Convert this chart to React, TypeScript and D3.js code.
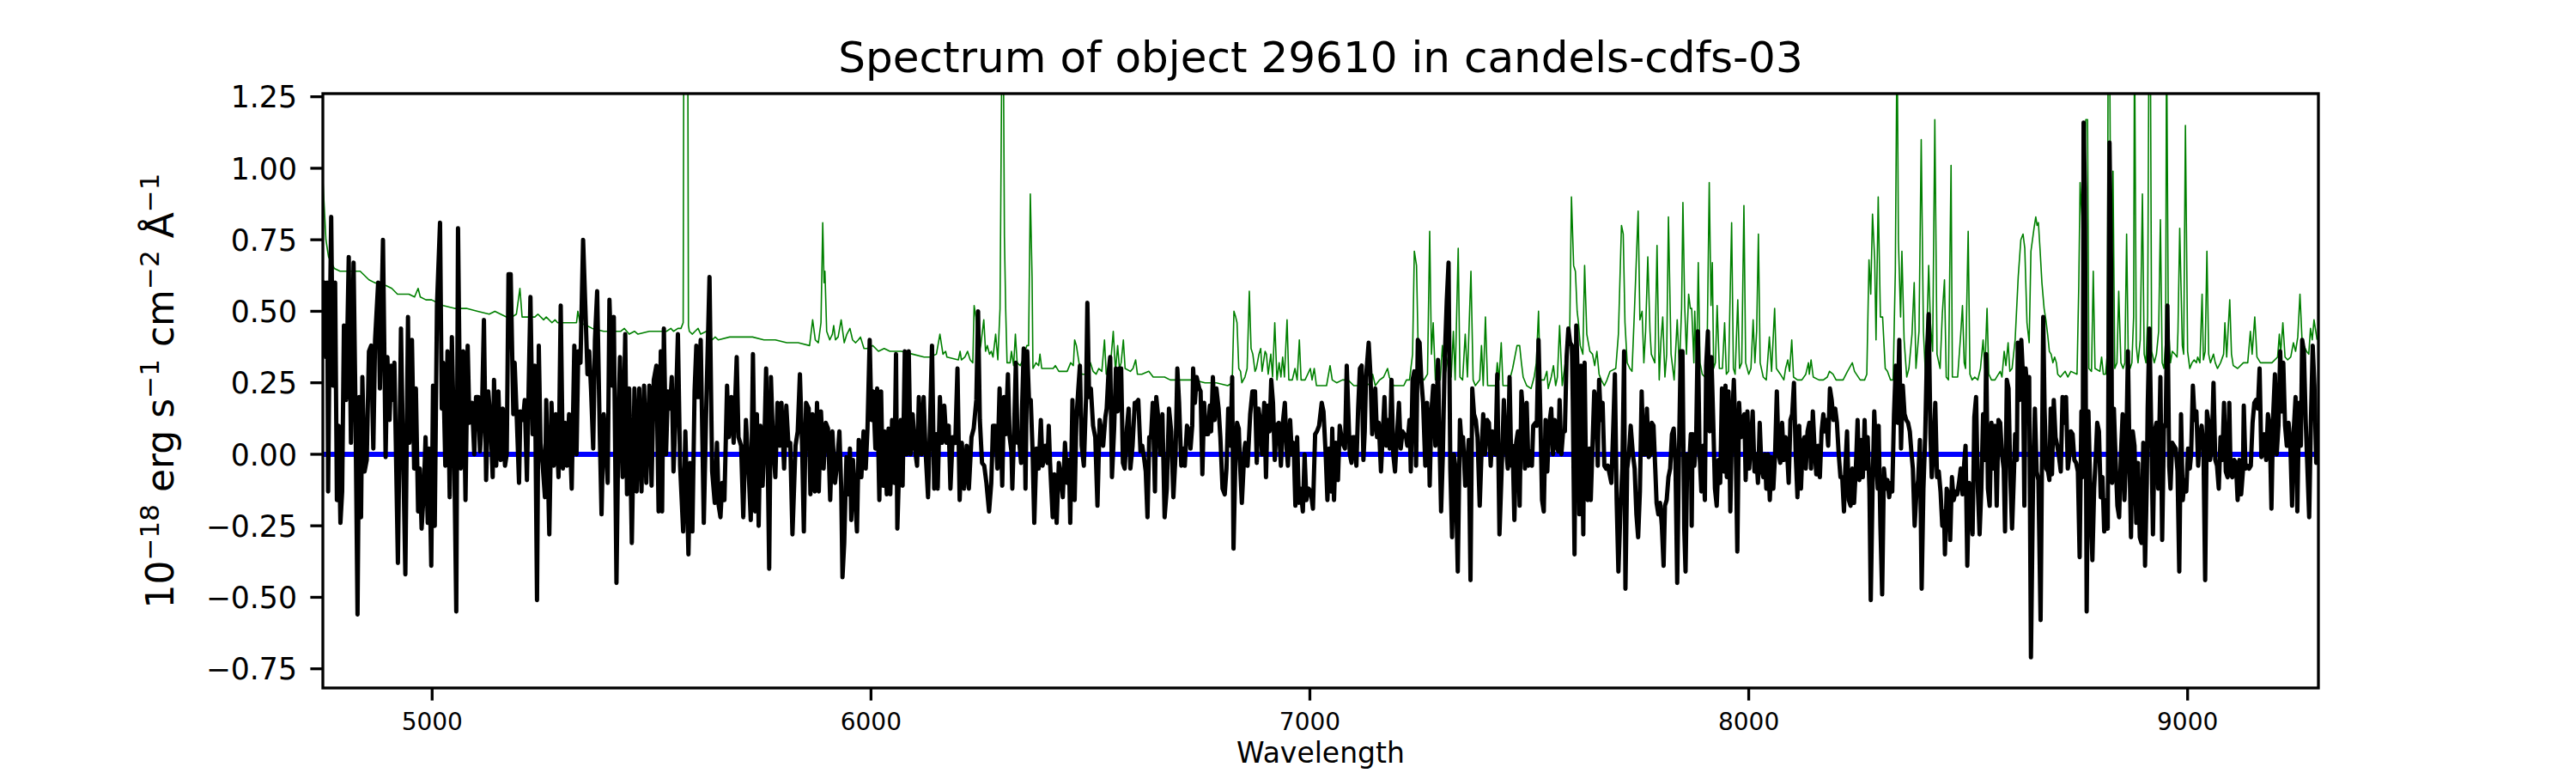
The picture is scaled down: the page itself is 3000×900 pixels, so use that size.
import React from 'react';
import * as d3 from 'd3';

const titleText = 'Spectrum of object 29610 in candels-cdfs-03';
const xLabelText = 'Wavelength';
const xDomain: [number, number] = [4751, 9298];
const yDomain: [number, number] = [-0.817, 1.261];
const xTicks = [5000, 6000, 7000, 8000, 9000];
const yTicks = [-0.75, -0.5, -0.25, 0, 0.25, 0.5, 0.75, 1.0, 1.25];
const zeroLevel = 0;

// Extracted (black) flux: [wavelength, flux]
const fluxSpectrum: [number, number][] = [
[4750,.35],[4755,.60],[4758,.34],[4761,.60],[4763,-.13],[4766,.35],[4770,.83],[4774,.24],[4779,.60],[4783,-.16],[4787,.10],[4791,-.24],[4795,-.13],[4799,.45],[4804,.19],[4810,.69],[4815,.04],[4821,.67],[4825,.20],[4830,-.56],[4834,.20],[4838,-.22],[4841,.27],[4846,-.06],[4851,-.02],[4856,.36],[4861,.38],[4866,.02],[4870,.40],[4877,.60],[4881,.23],[4888,.75],[4894,-.01],[4898,.34],[4903,.12],[4907,.31],[4911,.19],[4914,.32],[4922,-.38],[4929,.44],[4933,.08],[4939,-.42],[4945,.48],[4948,.04],[4954,.40],[4959,-.05],[4963,.23],[4968,-.20],[4972,-.05],[4976,-.26],[4981,-.13],[4985,.06],[4990,-.24],[4993,.02],[4998,-.39],[5002,.24],[5006,-.25],[5011,.52],[5018,.81],[5022,.16],[5025,.32],[5030,-.04],[5035,.36],[5040,-.15],[5045,.41],[5050,.04],[5055,-.55],[5059,.79],[5065,-.05],[5071,.36],[5076,-.16],[5081,.38],[5085,.11],[5091,.18],[5096,.00],[5100,.20],[5105,.20],[5109,.01],[5113,.11],[5118,.47],[5123,-.09],[5128,.22],[5133,.12],[5138,-.08],[5141,.26],[5146,-.04],[5151,.22],[5156,-.02],[5161,.16],[5166,-.04],[5170,.00],[5174,.63],[5179,.63],[5185,.14],[5188,.32],[5193,.12],[5198,-.10],[5201,.15],[5207,.12],[5211,.19],[5216,-.09],[5220,.24],[5224,.55],[5229,.07],[5234,.31],[5239,-.51],[5243,.38],[5247,.04],[5252,-.04],[5257,-.15],[5260,.19],[5267,-.28],[5272,.18],[5277,-.04],[5282,.14],[5288,-.08],[5293,.52],[5298,-.05],[5303,.11],[5307,-.04],[5312,.14],[5318,-.12],[5324,.38],[5329,.00],[5333,.36],[5338,.32],[5344,.75],[5349,.52],[5354,.28],[5358,.36],[5362,.23],[5367,.02],[5371,.40],[5376,.57],[5382,.07],[5386,-.21],[5391,.14],[5396,.02],[5400,-.10],[5404,.54],[5410,.24],[5414,.48],[5420,-.45],[5425,.16],[5428,.34],[5434,-.08],[5440,.42],[5444,-.14],[5449,.23],[5455,-.31],[5461,.23],[5466,-.13],[5472,.23],[5477,-.13],[5483,.24],[5488,-.10],[5495,.24],[5500,-.11],[5505,.26],[5511,.31],[5516,-.20],[5521,.36],
[5524,-.20],[5528,.44],[5533,.00],[5537,.22],[5542,.16],[5546,.27],[5550,-.06],[5555,.15],[5560,.42],[5565,-.04],[5572,-.27],[5577,.08],[5584,-.35],[5588,-.03],[5593,-.27],[5598,.22],[5602,.38],[5606,.20],[5612,.40],[5619,-.24],[5625,.19],[5632,.62],[5638,-.06],[5644,-.17],[5649,.04],[5653,-.18],[5657,-.22],[5661,-.10],[5666,-.16],[5672,.24],[5676,.06],[5682,.20],[5687,.04],[5694,.34],[5698,.06],[5704,.03],[5709,-.22],[5715,.12],[5721,-.05],[5726,-.23],[5731,.35],[5736,-.20],[5740,.14],[5744,-.25],[5748,.10],[5753,-.11],[5757,.04],[5761,.30],[5765,-.05],[5768,-.40],[5772,.27],[5777,.03],[5782,-.08],[5787,.18],[5792,.03],[5796,.18],[5802,-.05],[5807,.17],[5812,.03],[5816,.04],[5821,-.28],[5828,.03],[5833,.08],[5838,.28],[5843,.03],[5847,-.27],[5852,.18],[5858,.16],[5862,-.14],[5867,.14],[5872,-.13],[5877,.18],[5881,-.13],[5886,.15],[5892,-.05],[5897,.11],[5902,.09],[5907,-.16],[5912,.08],[5918,-.10],[5923,-.03],[5928,.08],[5932,-.11],[5935,-.43],[5939,-.31],[5944,-.01],[5948,-.14],[5952,.02],[5955,-.23],[5959,-.02],[5963,-.13],[5968,-.27],[5972,.05],[5978,-.08],[5983,.08],[5988,-.05],[5992,.09],[5997,.40],[6001,.12],[6005,.22],[6010,.02],[6014,.23],[6019,-.16],[6023,.22],[6027,-.11],[6031,.08],[6036,-.14],[6040,.09],[6044,-.14],[6048,.12],[6053,-.10],[6057,.35],[6060,-.26],[6064,-.05],[6068,.12],[6072,-.11],[6077,.36],[6081,.00],[6086,.36],[6090,.00],[6095,.14],[6100,.02],[6105,-.04],[6109,.20],[6115,.00],[6120,.20],[6124,.02],[6130,-.15],[6134,.08],[6139,.38],[6144,-.12],[6149,.07],[6152,-.12],[6157,.20],[6162,.04],[6167,.17],[6172,.04],[6177,.10],[6181,-.12],[6186,.06],[6192,.04],[6197,.30],[6202,-.16],[6207,.04],[6212,-.12],[6218,.03],[6223,-.12],[6229,.06],[6234,.09],[6240,.19],[6244,.50],[6248,.12],[6253,-.03],[6258,-.04],[6263,-.10],[6269,-.20],[6274,-.10],[6278,.10],[6283,.10],[6288,-.05],[6293,.23],[6299,-.11],[6303,.20],
[6307,.07],[6312,.28],[6316,.06],[6320,.01],[6322,-.12],[6326,.08],[6330,.32],[6334,.04],[6338,.04],[6342,-.03],[6344,.15],[6348,.37],[6352,-.12],[6356,.36],[6360,.19],[6364,.19],[6368,.02],[6372,-.24],[6377,.02],[6382,-.05],[6387,.12],[6391,-.04],[6397,.03],[6402,-.03],[6405,.10],[6408,-.03],[6414,-.22],[6418,-.07],[6423,-.24],[6428,-.03],[6432,-.07],[6437,-.15],[6442,.04],[6447,-.10],[6451,-.02],[6454,-.24],[6459,.19],[6464,-.16],[6468,.12],[6472,.22],[6476,.31],[6480,.03],[6485,-.04],[6490,.20],[6493,.53],[6497,.20],[6501,.23],[6506,.10],[6511,.06],[6516,-.18],[6521,.12],[6524,.09],[6529,.03],[6534,.13],[6537,.16],[6541,.28],[6545,.34],[6549,-.08],[6554,.09],[6558,.30],[6562,.15],[6566,.30],[6570,.30],[6574,-.03],[6578,-.05],[6583,.09],[6587,.16],[6591,-.05],[6596,.03],[6601,.18],[6604,.18],[6609,.19],[6614,.01],[6618,.03],[6622,-.01],[6626,-.06],[6630,-.22],[6634,.06],[6638,.06],[6642,.18],[6647,-.13],[6650,.20],[6655,.12],[6659,.00],[6664,.14],[6669,-.22],[6674,-.12],[6679,.16],[6684,.08],[6689,-.15],[6694,.00],[6698,.30],[6702,.18],[6707,-.04],[6712,.02],[6715,-.04],[6720,.10],[6725,.08],[6728,.02],[6732,.10],[6734,.30],[6738,.18],[6742,.27],[6748,.23],[6751,.22],[6755,-.07],[6759,.18],[6763,.07],[6768,.07],[6772,.17],[6775,.08],[6779,.27],[6783,.12],[6787,.23],[6792,.16],[6796,.06],[6801,-.12],[6806,-.14],[6810,-.05],[6814,.16],[6819,.03],[6823,.27],[6826,-.33],[6830,-.04],[6834,.11],[6838,.09],[6841,-.04],[6845,-.17],[6851,.02],[6853,.04],[6858,-.04],[6864,.14],[6869,.22],[6875,.22],[6879,-.03],[6883,.16],[6888,.10],[6891,.00],[6896,.18],[6900,-.08],[6904,.17],[6908,.08],[6912,.26],[6916,.18],[6920,-.02],[6924,.10],[6929,.11],[6934,-.04],[6939,.12],[6943,.18],[6947,.02],[6950,-.04],[6955,.12],[6959,.00],[6963,.04],[6967,-.18],[6971,.06],[6975,-.17],[6979,-.12],[6984,-.20],[6988,.00],[6992,-.16],[6997,-.12],[7002,-.13],[7007,-.19],[7012,.07],[7016,.08],[7021,.10],[7027,.18],[7031,.15],[7036,.00],[7040,-.16],[7044,.02],[7048,-.13],[7051,.09],[7055,-.16],[7059,.04],[7064,-.09],[7068,.10],[7074,.04],[7080,.02],[7084,.31],
[7091,.00],[7095,-.03],[7098,.06],[7102,.06],[7106,-.04],[7110,.16],[7114,.30],[7118,.31],[7122,-.02],[7125,.08],[7128,.27],[7134,.39],[7138,.28],[7142,.07],[7145,.12],[7149,.23],[7153,.06],[7157,.11],[7162,-.06],[7166,.07],[7170,.20],[7174,.03],[7178,.12],[7182,.02],[7186,.26],[7190,.00],[7194,-.06],[7199,.08],[7203,.18],[7207,.02],[7211,.08],[7215,.07],[7219,.06],[7222,.03],[7227,.12],[7230,-.06],[7234,.26],[7238,.29],[7242,-.04],[7246,.40],[7250,.39],[7254,.26],[7258,.18],[7263,-.04],[7267,.18],[7271,.06],[7273,-.11],[7277,.15],[7281,.24],[7286,.03],[7292,.33],[7295,.08],[7299,-.20],[7303,.00],[7307,.32],[7312,.54],[7316,.67],[7320,-.05],[7324,-.29],[7328,.00],[7332,-.05],[7337,-.41],[7342,.12],[7346,.03],[7349,.06],[7354,-.11],[7358,-.05],[7362,.05],[7366,-.44],[7370,.23],[7374,.14],[7378,.12],[7382,.06],[7387,-.18],[7391,.00],[7395,.14],[7399,.00],[7404,.12],[7408,.11],[7412,-.04],[7416,.08],[7419,.02],[7423,.00],[7427,.28],[7432,-.28],[7438,-.01],[7442,.19],[7446,.04],[7451,-.05],[7455,.27],[7459,-.04],[7462,.03],[7466,-.23],[7470,.04],[7474,.08],[7478,-.18],[7482,.22],[7486,.14],[7490,-.05],[7494,.18],[7498,-.04],[7502,.01],[7506,-.04],[7509,.10],[7514,.11],[7517,.10],[7521,.40],[7525,.15],[7529,-.16],[7533,-.20],[7537,.12],[7541,-.06],[7545,.10],[7550,.16],[7554,.00],[7558,.12],[7562,.03],[7566,.01],[7569,.19],[7573,.00],[7577,.08],[7581,.08],[7585,.34],[7589,.44],[7593,.39],[7597,.38],[7599,.19],[7603,-.35],[7607,.45],[7611,.23],[7614,-.21],[7618,.31],[7623,-.28],[7626,.32],[7629,-.05],[7633,-.16],[7637,.02],[7640,-.16],[7644,.03],[7648,.22],[7652,.19],[7656,-.04],[7659,.26],[7663,.12],[7667,.18],[7671,-.04],[7675,-.05],[7679,-.04],[7683,-.07],[7687,-.10],[7691,.08],[7695,.28],[7699,-.16],[7703,-.41],[7708,-.18],[7712,-.05],[7716,.36],[7719,-.47],[7723,-.05],[7727,.00],[7731,.10],[7736,.00],[7740,-.05],[7744,-.21],[7748,-.29],[7752,-.13],[7756,.22],[7760,.00],[7764,.00],[7768,.16],[7772,-.01],[7776,.00],[7779,.11],[7783,.10],[7787,-.05],[7790,-.17],[7794,-.21],[7798,-.17],[7802,-.25],[7806,-.39],[7809,-.18],[7813,-.16],[7817,-.08],[7821,-.05],[7825,.07],[7829,.09],[7833,-.03],[7837,-.45],[7841,.00],[7845,.36],[7849,.36],[7853,-.26],[7856,-.41],[7860,.00],[7864,-.05],[7868,.07],
[7870,-.25],[7872,.07],[7876,-.04],[7880,.04],[7884,.43],[7888,.00],[7892,-.13],[7896,.03],[7900,-.16],[7903,.31],[7907,.43],[7911,.08],[7915,.34],[7919,.12],[7923,-.12],[7927,-.18],[7931,-.02],[7935,-.10],[7939,.23],[7943,-.06],[7947,.24],[7950,-.08],[7954,.22],[7958,-.20],[7962,.11],[7966,.26],[7970,.06],[7974,-.34],[7978,.18],[7982,.06],[7986,.12],[7990,.14],[7993,-.09],[7997,.15],[8001,-.05],[8005,.04],[8009,.15],[8013,-.06],[8017,.00],[8021,-.10],[8025,.11],[8029,-.05],[8033,-.08],[8037,.00],[8040,-.12],[8044,.00],[8048,-.16],[8052,-.01],[8056,-.12],[8060,.00],[8064,.22],[8068,.00],[8072,-.03],[8076,.11],[8080,-.02],[8084,.06],[8087,.02],[8091,-.10],[8095,.12],[8099,.14],[8103,.25],[8107,.00],[8111,-.15],[8115,.10],[8119,-.12],[8123,.04],[8127,.06],[8130,-.05],[8134,.08],[8138,.11],[8142,-.05],[8146,.15],[8150,.02],[8154,-.07],[8158,.03],[8162,-.08],[8166,.08],[8170,.14],[8174,.08],[8177,.12],[8181,.03],[8185,.23],[8189,.19],[8193,.12],[8197,.16],[8201,.11],[8205,.00],[8209,-.08],[8213,-.08],[8217,-.20],[8220,-.05],[8224,.08],[8228,-.16],[8232,-.18],[8236,-.05],[8240,-.17],[8244,-.05],[8248,.12],[8252,-.09],[8256,.05],[8260,-.08],[8264,.12],[8267,-.05],[8271,.06],[8275,-.12],[8278,-.51],[8282,-.13],[8286,.15],[8290,.00],[8294,-.12],[8296,.10],[8300,-.25],[8304,-.49],[8308,-.05],[8312,-.12],[8316,-.09],[8320,-.15],[8324,-.10],[8327,-.13],[8331,.14],[8335,.31],[8339,.11],[8343,.40],[8347,.02],[8351,.24],[8355,.14],[8359,.12],[8363,.11],[8367,.08],[8371,.00],[8374,-.05],[8378,-.25],[8382,-.14],[8386,-.09],[8390,.05],[8394,-.47],[8398,-.12],[8402,.06],[8406,.35],[8410,.49],[8414,.07],[8417,-.08],[8421,.02],[8425,.18],[8429,-.08],[8433,-.06],[8437,-.13],[8441,-.25],[8445,-.20],[8447,-.35],[8451,-.12],[8455,-.14],[8459,-.30],[8463,-.08],[8467,-.16],[8471,-.13],[8475,-.14],[8479,-.10],[8483,-.05],[8487,-.14],[8491,-.03],[8494,.03],[8498,-.39],[8502,-.10],[8506,-.17],[8510,-.28],[8514,.13],[8518,.20],[8522,-.12],[8526,-.28],[8530,-.12],[8534,.14],[8538,-.02],[8541,.35],[8545,-.12],[8549,-.18],[8553,.11],[8557,-.05],[8561,.10],[8565,-.18],[8569,.12],[8573,.11],[8577,.00],[8581,-.05],[8584,-.27],[8588,.26],[8592,.23],[8596,-.08],[8600,-.26],[8604,-.08],[8607,.07],[8611,-.02],[8613,.39],[8617,.19],[8621,.40],[8625,.27],[8628,-.18],[8631,.30],[8635,.22],[8639,.27],[8643,-.71],
[8648,-.08],[8652,.16],[8656,-.06],[8660,-.09],[8665,-.58],[8671,.48],[8674,.16],[8678,-.05],[8682,-.06],[8685,-.09],[8688,.16],[8691,-.07],[8695,.19],[8699,.06],[8703,.03],[8707,-.01],[8711,-.06],[8715,.20],[8719,.11],[8723,.20],[8727,-.05],[8731,.00],[8734,.08],[8738,.07],[8742,-.02],[8746,-.03],[8750,-.06],[8754,-.36],[8758,.15],[8761,-.08],[8763,1.16],[8766,.93],[8770,-.55],[8774,.15],[8779,-.18],[8783,-.37],[8787,-.12],[8791,.00],[8794,.11],[8798,.08],[8802,-.15],[8806,-.08],[8810,-.27],[8814,-.16],[8818,-.26],[8822,1.09],[8826,.62],[8828,-.10],[8832,.16],[8836,-.02],[8840,-.18],[8844,-.22],[8848,.00],[8852,.14],[8856,-.16],[8860,.00],[8864,.36],[8868,-.05],[8871,-.29],[8875,.08],[8879,.03],[8883,-.24],[8887,-.03],[8891,-.29],[8895,-.31],[8899,.04],[8903,-.39],[8907,-.10],[8909,.16],[8913,.44],[8917,.10],[8921,-.28],[8925,.08],[8929,.11],[8933,-.12],[8938,.27],[8942,-.30],[8946,.09],[8950,.11],[8954,.52],[8958,-.04],[8961,-.12],[8965,.04],[8969,.03],[8973,.02],[8977,-.06],[8981,-.41],[8985,.14],[8989,-.16],[8993,-.09],[8997,-.13],[9001,.02],[9005,-.05],[9008,.00],[9012,.24],[9016,.12],[9020,.15],[9024,-.04],[9028,.06],[9032,.10],[9036,.03],[9040,-.44],[9044,.15],[9048,.11],[9051,-.02],[9055,.02],[9059,.25],[9063,-.02],[9067,-.04],[9071,-.12],[9075,.06],[9079,-.02],[9083,.18],[9087,-.06],[9091,-.08],[9095,.18],[9098,-.07],[9102,-.08],[9106,-.02],[9110,-.03],[9114,-.16],[9118,-.02],[9122,-.14],[9126,-.06],[9128,.17],[9132,-.05],[9136,-.04],[9140,-.05],[9144,-.04],[9148,.11],[9152,.18],[9156,.19],[9160,.16],[9164,.30],[9168,-.01],[9171,.00],[9175,.07],[9179,-.02],[9183,.14],[9187,.10],[9191,-.19],[9195,.14],[9199,.28],[9203,.00],[9207,.10],[9211,.36],[9215,.15],[9218,.32],[9222,.10],[9226,.03],[9230,.11],[9234,.04],[9238,-.18],[9242,.09],[9246,.20],[9250,-.20],[9254,.18],[9258,.03],[9261,.40],[9265,.36],[9269,.12],[9273,-.05],[9277,-.22],[9281,.12],[9285,.38],[9289,.24],[9293,-.03],[9297,.10]
];

// Noise (green) spectrum: [wavelength, flux]
const noiseSpectrum: [number, number][] = [
[4751,.96],[4758,.75],[4764,.69],[4777,.65],[4790,.64],[4804,.64],[4830,.64],[4836,.64],[4856,.61],[4869,.60],[4895,.59],[4908,.58],[4921,.56],[4947,.56],[4960,.55],[4968,.58],[4973,.55],[4986,.54],[4999,.54],[5012,.53],[5025,.52],[5051,.51],[5078,.51],[5104,.50],[5130,.49],[5143,.50],[5169,.48],[5182,.48],[5192,.49],[5200,.58],[5205,.48],[5221,.48],[5234,.48],[5241,.49],[5254,.47],[5260,.48],[5273,.46],[5280,.47],[5286,.46],[5312,.46],[5329,.46],[5332,.50],[5337,.46],[5352,.45],[5365,.44],[5391,.43],[5430,.43],[5438,.44],[5449,.42],[5461,.43],[5469,.42],[5495,.43],[5521,.43],
[5534,.43],[5544,.44],[5550,.43],[5560,.44],[5567,.44],[5572,.46],[5575,2.5],[5581,2.5],[5584,.45],[5586,.43],[5593,.42],[5599,.43],[5606,.44],[5612,.42],[5625,.43],[5632,.42],[5638,.40],[5645,.41],[5652,.40],[5678,.41],[5704,.41],[5730,.41],[5756,.40],[5782,.40],[5808,.39],[5834,.39],[5860,.38],[5867,.47],[5873,.40],[5880,.39],[5886,.46],[5890,.81],[5893,.60],[5895,.64],[5899,.43],[5906,.40],[5912,.42],[5915,.45],[5919,.40],[5925,.41],[5932,.47],[5939,.39],[5945,.42],[5952,.44],[5958,.40],[5965,.39],[5971,.40],[5976,.41],[5984,.37],[5991,.37],[6004,.38],[6017,.36],[6030,.37],[6043,.36],[6069,.36],[6095,.35],[6121,.34],[6134,.34],[6149,.35],[6157,.42],[6164,.35],[6170,.36],[6173,.34],[6199,.33],[6203,.36],[6206,.33],[6214,.34],[6220,.36],[6226,.33],[6232,.32],[6235,.52],[6239,.48],[6244,.34],[6250,.38],[6257,.47],[6261,.36],[6265,.38],[6270,.35],[6274,.36],[6278,.34],[6284,.42],[6289,.33],[6294,.51],[6299,1.6],[6301,1.6],[6304,.76],[6307,.50],[6310,.32],[6317,.32],[6320,.36],[6325,.31],[6329,.42],[6333,.32],[6340,.31],[6346,.33],[6355,.38],[6359,.38],[6363,.91],[6367,.62],[6369,.30],[6376,.32],[6382,.31],[6385,.35],[6389,.30],[6402,.30],[6415,.30],[6420,.31],[6428,.29],[6447,.29],[6455,.32],[6461,.31],[6464,.40],[6468,.38],[6474,.32],[6480,.28],[6493,.28],[6500,.32],[6506,.29],[6513,.28],[6519,.30],[6526,.29],[6532,.40],[6536,.28],[6545,.30],[6552,.43],[6557,.29],[6562,.38],[6566,.30],[6570,.32],[6575,.40],[6579,.30],[6591,.29],[6597,.30],[6603,.33],[6607,.28],[6617,.28],[6633,.29],[6643,.27],[6669,.27],[6682,.26],[6708,.26],[6734,.26],[6761,.25],[6787,.25],[6813,.24],[6823,.25],[6827,.50],[6831,.48],[6834,.46],[6838,.30],[6842,.29],[6845,.25],[6852,.27],[6857,.30],[6862,.57],[6866,.37],[6870,.35],[6875,.29],[6878,.30],[6884,.35],[6888,.37],[6891,.29],[6898,.36],[6901,.35],[6905,.28],[6911,.35],[6915,.27],[6920,.46],[6925,.26],[6930,.32],[6934,.27],[6938,.34],[6942,.27],[6948,.47],[6952,.26],[6960,.26],[6966,.30],[6971,.26],[6976,.40],[6980,.26],[6989,.26],[7001,.30],[7005,.26],[7010,.30],[7015,.24],[7028,.24],[7038,.24],[7046,.31],[7051,.26],[7061,.25],[7074,.26],[7087,.26],
[7100,.24],[7113,.24],[7126,.25],[7139,.24],[7143,.28],[7149,.24],[7159,.26],[7168,.27],[7177,.30],[7181,.27],[7191,.24],[7214,.24],[7220,.26],[7227,.26],[7234,.35],[7238,.71],[7243,.66],[7247,.35],[7253,.27],[7260,.26],[7268,.28],[7273,.78],[7277,.35],[7281,.46],[7286,.26],[7292,.30],[7297,.26],[7302,.38],[7307,.27],[7315,.34],[7322,.27],[7327,.43],[7331,.26],[7338,.72],[7342,.27],[7348,.26],[7354,.42],[7359,.27],[7367,.64],[7372,.26],[7377,.24],[7387,.26],[7391,.38],[7395,.24],[7400,.48],[7405,.24],[7413,.24],[7423,.24],[7427,.32],[7431,.26],[7436,.39],[7440,.24],[7452,.24],[7462,.30],[7472,.38],[7478,.38],[7482,.32],[7486,.27],[7494,.24],[7504,.23],[7511,.27],[7516,.32],[7521,.50],[7525,.26],[7534,.26],[7540,.29],[7543,.23],[7550,.27],[7555,.31],[7560,.24],[7564,.27],[7569,.45],[7575,.24],[7582,.32],[7588,.36],[7592,.42],[7596,.90],[7601,.66],[7605,.64],[7609,.50],[7612,.46],[7616,.38],[7622,.35],[7626,.66],[7631,.42],[7638,.36],[7644,.35],[7649,.31],[7654,.36],[7659,.28],[7664,.26],[7671,.24],[7677,.26],[7684,.29],[7697,.30],[7703,.42],[7710,.80],[7714,.77],[7718,.46],[7723,.32],[7729,.30],[7734,.29],[7739,.48],[7748,.85],[7752,.47],[7757,.50],[7761,.32],[7765,.43],[7770,.69],[7775,.43],[7778,.35],[7786,.32],[7791,.73],[7796,.26],[7800,.40],[7804,.48],[7809,.27],[7813,.35],[7817,.83],[7823,.35],[7830,.26],[7837,.47],[7842,.30],[7847,.51],[7850,.88],[7854,.52],[7858,.35],[7863,.56],[7867,.51],
[7870,.51],[7875,.32],[7877,.50],[7881,.30],[7885,.67],[7889,.32],[7894,.28],[7900,.27],[7905,.35],[7910,.95],[7914,.52],[7917,.67],[7920,.30],[7924,.32],[7928,.52],[7933,.30],[7940,.30],[7945,.46],[7949,.28],[7954,.29],[7961,.81],[7965,.30],[7969,.28],[7975,.54],[7979,.30],[7984,.32],[7989,.87],[7993,.32],[8000,.28],[8005,.30],[8010,.47],[8014,.32],[8018,.43],[8022,.77],[8026,.32],[8033,.27],[8040,.26],[8047,.41],[8052,.29],[8059,.51],[8063,.30],[8072,.28],[8080,.26],[8084,.30],[8089,.33],[8093,.29],[8098,.40],[8102,.27],[8111,.26],[8121,.26],[8130,.28],[8136,.32],[8138,.28],[8142,.33],[8147,.27],[8160,.26],[8170,.26],[8179,.27],[8184,.29],[8192,.28],[8199,.26],[8215,.26],[8225,.29],[8236,.32],[8241,.29],[8254,.26],[8264,.26],[8269,.28],[8274,.68],[8278,.56],[8282,.84],[8287,.68],[8290,.40],[8295,.90],[8300,.48],[8305,.48],[8311,.30],[8316,.29],[8323,.26],[8329,.26],[8334,.64],[8338,1.5],[8341,.75],[8346,.48],[8349,.71],[8354,.40],[8360,.27],[8365,.30],[8372,.42],[8377,.60],[8381,.30],[8388,.43],[8393,1.10],[8398,.43],[8403,.27],[8410,.66],[8414,.46],[8419,.36],[8424,1.17],[8429,.35],[8436,.30],[8441,.49],[8446,.61],[8450,.27],[8455,.26],[8461,1.01],[8464,.27],[8476,.27],[8483,.42],[8487,.52],[8491,.32],[8494,.30],[8500,.78],[8504,.28],[8509,.26],[8515,.27],[8522,.26],[8528,.30],[8534,.40],[8538,.30],[8543,.51],[8547,.28],[8553,.26],[8561,.26],[8569,.28],[8573,.29],[8577,.27],[8582,.36],[8586,.31],[8591,.39],[8595,.29],[8600,.30],[8607,.40],[8614,.62],[8620,.75],[8625,.77],[8629,.72],[8634,.46],[8639,.39],[8643,.71],
[8650,.79],[8654,.83],[8657,.80],[8660,.81],[8664,.71],[8668,.60],[8673,.51],[8677,.47],[8681,.42],[8685,.36],[8689,.35],[8693,.32],[8697,.34],[8701,.32],[8704,.28],[8710,.27],[8721,.29],[8727,.27],[8734,.29],[8748,.28],[8752,.59],[8755,.95],[8759,.83],[8762,.59],[8768,1.17],[8772,1.17],[8775,.30],[8781,.29],[8785,.64],[8789,.30],[8800,.29],[8804,.34],[8808,.28],[8813,.28],[8817,.35],[8819,1.5],[8822,1.5],[8826,.48],[8830,.99],[8834,.30],[8839,.32],[8843,.57],[8848,.32],[8853,.30],[8857,.32],[8861,.77],[8865,.32],[8869,.30],[8873,.32],[8877,.48],[8879,1.5],[8883,.38],[8887,.32],[8892,.40],[8897,.91],[8901,.35],[8905,.32],[8909,.48],[8912,1.5],[8915,1.5],[8918,.36],[8924,.32],[8929,.35],[8934,.43],[8938,.82],[8942,.32],[8946,.30],[8950,.40],[8952,1.5],[8956,.46],[8961,.32],[8965,.36],[8971,.35],[8976,.34],[8978,.43],[8982,.79],[8988,.38],[8991,.35],[8995,1.15],[9000,.36],[9005,.30],[9010,.32],[9015,.33],[9020,.32],[9023,.34],[9028,.32],[9033,.56],[9036,.33],[9040,.36],[9044,.71],[9048,.35],[9052,.32],[9059,.35],[9063,.32],[9068,.30],[9075,.32],[9082,.35],[9085,.46],[9089,.34],[9096,.54],[9100,.35],[9104,.31],[9114,.30],[9127,.32],[9137,.32],[9143,.43],[9147,.35],[9153,.48],[9158,.34],[9166,.32],[9176,.32],[9192,.32],[9205,.34],[9209,.42],[9212,.35],[9217,.46],[9222,.34],[9228,.33],[9235,.34],[9241,.39],[9246,.36],[9251,.41],[9256,.56],[9261,.39],[9265,.38],[9271,.36],[9276,.35],[9280,.44],[9284,.40],[9288,.47],[9292,.43],[9295,.40]
];

const FONT = '"DejaVu Sans", "Liberation Sans", sans-serif';

export default function App() {
  const width = 3000;
  const height = 900;
  const left = 376, right = 2700, top = 109, bottom = 801;
  const x = d3.scaleLinear().domain(xDomain).range([left, right]);
  const y = d3.scaleLinear().domain(yDomain).range([bottom, top]);
  const line = d3.line<[number, number]>().x(d => x(d[0])).y(d => y(d[1]));
  const fmtY = (v: number) => d3.format('.2f')(v).replace('-', '\u2212');
  const tickLen = 14.6;
  const tickW = 3.3;

  const supSize = 31;
  const shift = 17;

  return (
    <svg width={width} height={height} style={{ position: 'absolute', left: 0, top: 0, background: '#fff', display: 'block' }}
      xmlns="http://www.w3.org/2000/svg">
      <rect x={0} y={0} width={width} height={height} fill="#fff" />
      <defs>
        <clipPath id="plotClip">
          <rect x={left} y={top} width={right - left} height={bottom - top} />
        </clipPath>
      </defs>
      <g clipPath="url(#plotClip)">
        <line x1={x(xDomain[0])} x2={x(xDomain[1])} y1={y(zeroLevel)} y2={y(zeroLevel)} stroke="#0000ff" strokeWidth={6} />
        <path d={line(noiseSpectrum) || ''} fill="none" stroke="#008000" strokeWidth={1.6} strokeLinejoin="round" />
        <path d={line(fluxSpectrum) || ''} fill="none" stroke="#000000" strokeWidth={5} strokeLinejoin="round" strokeLinecap="round" />
      </g>
      <rect x={left} y={top} width={right - left} height={bottom - top} fill="none" stroke="#000" strokeWidth={3.3} />
      {xTicks.map(t => (
        <g key={'x' + t}>
          <line x1={x(t)} x2={x(t)} y1={bottom} y2={bottom + tickLen} stroke="#000" strokeWidth={tickW} />
          <text x={x(t)} y={850} textAnchor="middle" fontFamily={FONT} fontSize={28} fill="#000">{t}</text>
        </g>
      ))}
      {yTicks.map(t => (
        <g key={'y' + t}>
          <line x1={left - tickLen} x2={left} y1={y(t)} y2={y(t)} stroke="#000" strokeWidth={tickW} />
          <text x={346} y={y(t) + 12.6} textAnchor="end" fontFamily={FONT} fontSize={34.7} fill="#000">{fmtY(t)}</text>
        </g>
      ))}
      <text x={(left + right) / 2} y={84} textAnchor="middle" fontFamily={FONT} fontSize={50} fill="#000">{titleText}</text>
      <text x={(left + right) / 2} y={888} textAnchor="middle" fontFamily={FONT} fontSize={33} fill="#000">{xLabelText}</text>
      <text transform={`translate(202,${(top + bottom) / 2}) rotate(-90)`} textAnchor="middle" fontFamily={FONT} fontSize={44} fill="#000" style={{ whiteSpace: 'pre' }}>
        <tspan>10</tspan>
        <tspan fontSize={supSize} dy={-shift}>{'\u221218'}</tspan>
        <tspan dy={shift}>{' erg s'}</tspan>
        <tspan fontSize={supSize} dy={-shift}>{'\u22121'}</tspan>
        <tspan dy={shift}>{' cm'}</tspan>
        <tspan fontSize={supSize} dy={-shift}>{'\u22122'}</tspan>
        <tspan dy={shift}>{' \u00C5'}</tspan>
        <tspan fontSize={supSize} dy={-shift}>{'\u22121'}</tspan>
      </text>
    </svg>
  );
}
